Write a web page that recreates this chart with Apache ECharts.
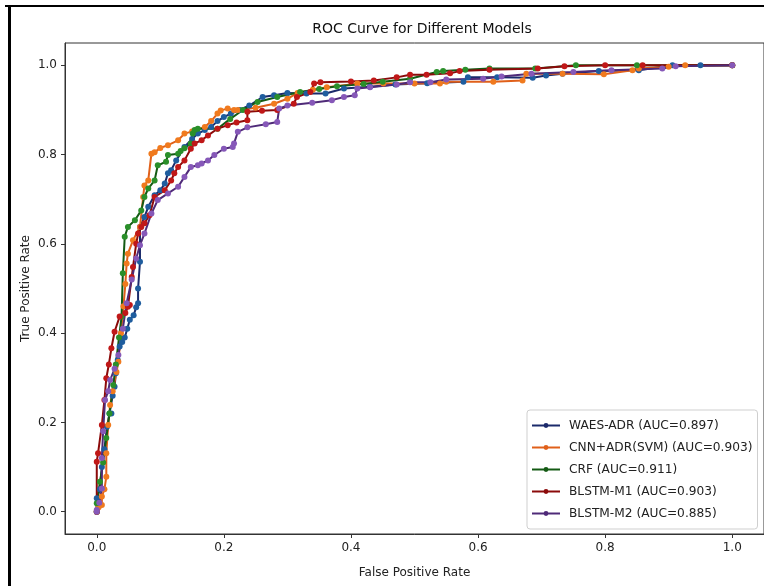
<!DOCTYPE html>
<html>
<head>
<meta charset="utf-8">
<script src="https://cdn.jsdelivr.net/npm/echarts@6/dist/echarts.min.js"></script>
<style>html,body{margin:0;padding:0;background:#fff}#c{width:764px;height:586px}</style>
</head>
<body>
<div id="c"></div>
<script>
const seriesNames = ['WAES-ADR (AUC=0.897)','CNN+ADR(SVM) (AUC=0.903)','CRF (AUC=0.911)','BLSTM-M1 (AUC=0.903)','BLSTM-M2 (AUC=0.885)'];
const xTicks = [0,0.2,0.4,0.6,0.8,1.0];
const yTicks = [0,0.2,0.4,0.6,0.8,1.0];

const waesAdr = [[0,0],[0,0.03],[0.005,0.05],[0.008,0.1],[0.012,0.14],[0.016,0.19],[0.02,0.22],[0.023,0.22],[0.025,0.26],[0.028,0.28],[0.03,0.31],[0.033,0.34],[0.036,0.37],[0.04,0.38],[0.044,0.39],[0.048,0.41],[0.052,0.43],[0.058,0.44],[0.062,0.458],[0.065,0.467],[0.065,0.5],[0.068,0.56],[0.068,0.638],[0.075,0.66],[0.081,0.683],[0.091,0.709],[0.1,0.72],[0.107,0.735],[0.112,0.758],[0.117,0.765],[0.125,0.787],[0.138,0.817],[0.15,0.835],[0.159,0.847],[0.17,0.855],[0.18,0.862],[0.19,0.875],[0.2,0.884],[0.211,0.892],[0.225,0.9],[0.24,0.91],[0.261,0.929],[0.279,0.933],[0.3,0.938],[0.33,0.937],[0.36,0.937],[0.389,0.948],[0.43,0.952],[0.47,0.957],[0.52,0.96],[0.577,0.963],[0.584,0.973],[0.63,0.973],[0.686,0.972],[0.707,0.977],[0.733,0.981],[0.79,0.987],[0.853,0.989],[0.906,1.0],[0.95,1.0],[1,1]];

const cnnAdr = [[0,0],[0.003,0.01],[0.008,0.015],[0.008,0.034],[0.012,0.05],[0.015,0.078],[0.015,0.131],[0.018,0.194],[0.021,0.239],[0.025,0.27],[0.031,0.313],[0.034,0.336],[0.038,0.4],[0.042,0.46],[0.045,0.51],[0.047,0.556],[0.049,0.578],[0.057,0.608],[0.068,0.638],[0.073,0.705],[0.075,0.731],[0.081,0.742],[0.086,0.802],[0.091,0.805],[0.1,0.815],[0.112,0.821],[0.128,0.832],[0.138,0.847],[0.15,0.852],[0.17,0.862],[0.18,0.875],[0.19,0.892],[0.195,0.899],[0.206,0.903],[0.216,0.9],[0.222,0.9],[0.25,0.905],[0.279,0.914],[0.3,0.925],[0.316,0.938],[0.34,0.945],[0.362,0.951],[0.41,0.959],[0.451,0.959],[0.5,0.959],[0.54,0.959],[0.55,0.963],[0.624,0.963],[0.67,0.966],[0.676,0.981],[0.733,0.981],[0.798,0.98],[0.843,0.989],[0.853,0.993],[0.9,0.997],[0.926,1.0],[1,1]];

const crf = [[0,0],[0,0.019],[0.005,0.067],[0.01,0.11],[0.015,0.165],[0.02,0.22],[0.026,0.284],[0.03,0.33],[0.035,0.39],[0.039,0.437],[0.041,0.534],[0.044,0.616],[0.049,0.638],[0.06,0.653],[0.07,0.675],[0.075,0.705],[0.081,0.724],[0.091,0.742],[0.096,0.776],[0.109,0.784],[0.112,0.799],[0.128,0.802],[0.132,0.808],[0.138,0.814],[0.148,0.825],[0.151,0.847],[0.154,0.855],[0.159,0.858],[0.19,0.858],[0.21,0.88],[0.23,0.9],[0.253,0.918],[0.284,0.929],[0.32,0.94],[0.35,0.947],[0.378,0.953],[0.42,0.958],[0.45,0.963],[0.493,0.97],[0.535,0.985],[0.545,0.987],[0.58,0.99],[0.618,0.993],[0.69,0.993],[0.754,1.0],[0.85,1.0],[1,1]];

const blstmM1 = [[0,0],[0,0.112],[0.002,0.131],[0.008,0.194],[0.012,0.25],[0.015,0.299],[0.019,0.33],[0.023,0.366],[0.028,0.403],[0.036,0.437],[0.045,0.445],[0.049,0.459],[0.052,0.463],[0.055,0.526],[0.057,0.548],[0.062,0.6],[0.065,0.623],[0.07,0.638],[0.075,0.646],[0.083,0.664],[0.091,0.705],[0.107,0.72],[0.117,0.742],[0.122,0.758],[0.128,0.772],[0.138,0.787],[0.148,0.813],[0.154,0.825],[0.165,0.832],[0.175,0.843],[0.19,0.858],[0.206,0.866],[0.22,0.872],[0.237,0.877],[0.237,0.896],[0.26,0.898],[0.284,0.9],[0.31,0.914],[0.315,0.929],[0.336,0.94],[0.342,0.959],[0.352,0.962],[0.4,0.964],[0.436,0.966],[0.472,0.973],[0.493,0.979],[0.519,0.979],[0.556,0.982],[0.571,0.987],[0.618,0.99],[0.694,0.993],[0.736,0.998],[0.8,1.0],[0.859,1.0],[1,1]];

const blstmM2 = [[0,0],[0,0.004],[0.004,0.02],[0.008,0.052],[0.008,0.12],[0.01,0.18],[0.013,0.25],[0.018,0.27],[0.021,0.295],[0.028,0.32],[0.034,0.351],[0.041,0.41],[0.047,0.467],[0.055,0.52],[0.062,0.567],[0.068,0.597],[0.075,0.623],[0.086,0.668],[0.096,0.698],[0.112,0.713],[0.128,0.728],[0.138,0.75],[0.148,0.772],[0.159,0.776],[0.165,0.78],[0.175,0.787],[0.185,0.799],[0.2,0.813],[0.214,0.817],[0.216,0.825],[0.222,0.851],[0.237,0.861],[0.266,0.868],[0.284,0.873],[0.287,0.903],[0.3,0.91],[0.339,0.916],[0.37,0.922],[0.389,0.929],[0.406,0.933],[0.41,0.948],[0.43,0.951],[0.472,0.957],[0.493,0.962],[0.525,0.962],[0.55,0.968],[0.608,0.97],[0.637,0.975],[0.684,0.981],[0.75,0.985],[0.81,0.989],[0.89,0.993],[0.911,0.998],[1,1]];

const allData = [waesAdr, cnnAdr, crf, blstmM1, blstmM2];
const lineColors = ['#1b2a6b','#e0601a','#145a14','#8b0a0a','#4f2a78'];
const markerColors = ['#1f5d9e','#f07a1e','#2a8f2a','#c01818','#8658b8'];

const FONT = 'DejaVu Sans';
const chart = echarts.init(document.getElementById('c'), null, {renderer:'canvas'});
chart.setOption({
  backgroundColor:'#fff',
  animation:false,
  title:{text:'ROC Curve for Different Models', left:417, top:17, textAlign:'center',
    textStyle:{fontFamily:FONT, fontSize:14, fontWeight:'normal', color:'#111'}},
  grid:{left:65, top:43, width:704, height:491, show:true, borderColor:'#333', borderWidth:1, backgroundColor:'#fff'},
  legend:{orient:'vertical', left:527, top:410, padding:[8,5,8,4], itemGap:7, itemWidth:28, itemHeight:6,
    backgroundColor:'#fff', borderColor:'#cfcfcf', borderWidth:1, borderRadius:3,
    textStyle:{fontFamily:FONT, fontSize:12.2, color:'#222', padding:[0,0,0,4], lineHeight:15},
    data:seriesNames.map((n,i)=>({name:n, itemStyle:{color:lineColors[i]}}))},
  xAxis:{type:'value', min:-0.05, max:1.05, splitLine:{show:false},
    name:'False Positive Rate', nameLocation:'middle', nameGap:33,
    nameTextStyle:{fontFamily:FONT, fontSize:12, color:'#222'},
    axisLine:{show:true, onZero:false, lineStyle:{color:'#333'}},
    axisTick:{show:true, length:4, lineStyle:{color:'#333'}, customValues:xTicks},
    axisLabel:{fontFamily:FONT, fontSize:12, color:'#222', margin:8, customValues:xTicks, formatter:v=>v.toFixed(1)}},
  yAxis:{type:'value', min:-0.05, max:1.05, splitLine:{show:false},
    name:'True Positive Rate', nameLocation:'middle', nameGap:33, nameMoveOverlap:false,
    nameTextStyle:{fontFamily:FONT, fontSize:12, color:'#222'},
    axisLine:{show:true, onZero:false, lineStyle:{color:'#333'}},
    axisTick:{show:true, length:4, lineStyle:{color:'#333'}, customValues:yTicks},
    axisLabel:{fontFamily:FONT, fontSize:12, color:'#222', margin:8, customValues:yTicks, formatter:v=>v.toFixed(1)}},
  graphic:[
    {type:'rect', shape:{x:5, y:5, width:759, height:2}, style:{fill:'#000'}, z:100},
    {type:'rect', shape:{x:8, y:5, width:3, height:581}, style:{fill:'#000'}, z:100}
  ],
  series: allData.map((d,i)=>({
    name:seriesNames[i], type:'line', data:d, symbol:'circle', symbolSize:6, showSymbol:true,
    lineStyle:{color:lineColors[i], width:2}, itemStyle:{color:markerColors[i]},
    emphasis:{disabled:true}
  }))
});
</script>
</body>
</html>
